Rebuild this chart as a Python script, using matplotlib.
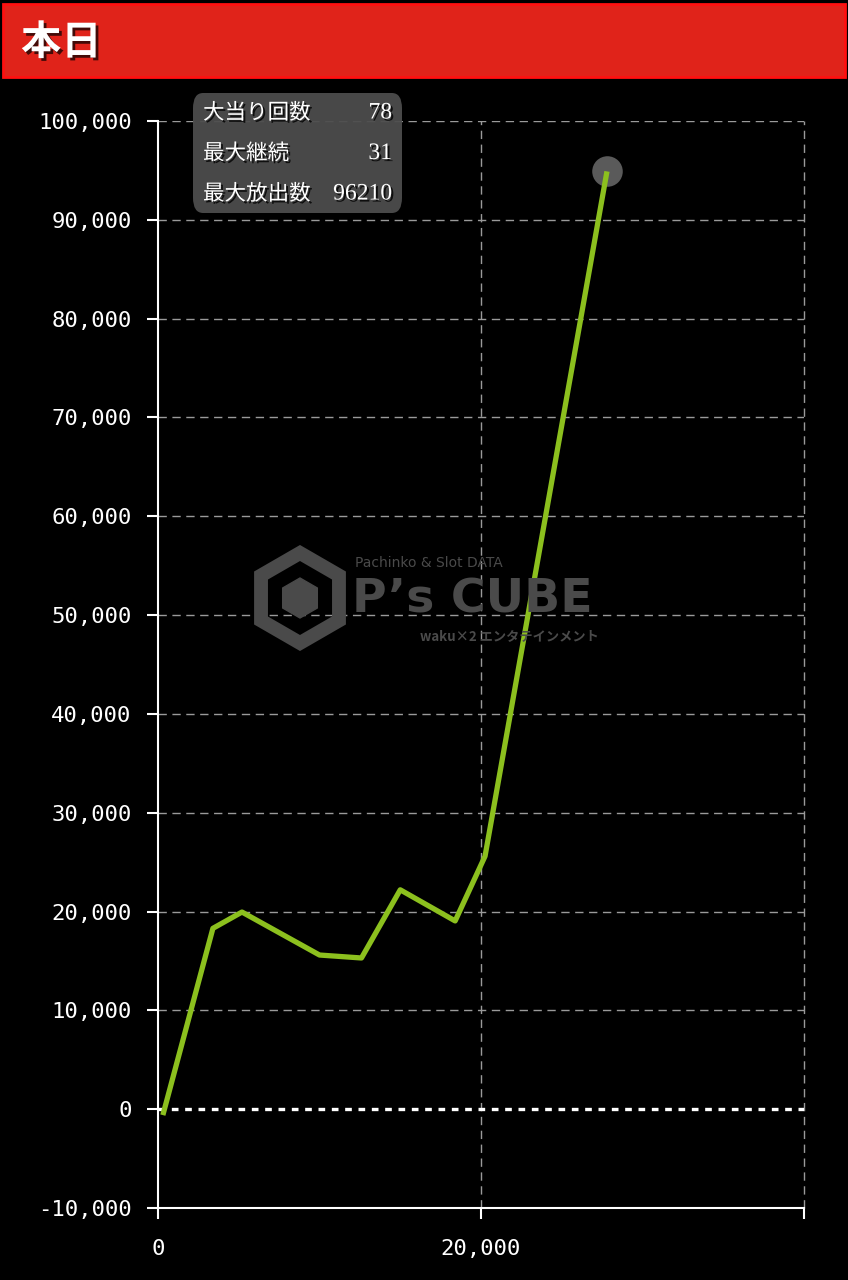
import matplotlib
matplotlib.use("Agg")
import matplotlib.pyplot as plt
import matplotlib.patheffects as pe
from matplotlib.patches import FancyBboxPatch, Rectangle, RegularPolygon
from matplotlib.ticker import FuncFormatter

# ---- data ----
spins = [300, 3400, 5200, 10000, 12600, 15000, 18400, 20250, 27800]
payout = [-600, 18300, 19950, 15600, 15300, 22200, 19050, 25600, 94900]
y_ticks = [-10000, 0, 10000, 20000, 30000, 40000, 50000, 60000, 70000, 80000, 90000, 100000]
x_ticks = [0, 20000]
title = "本日"
info_labels = ["大当り回数", "最大継続", "最大放出数"]
info_values = ["78", "31", "96210"]

W, H = 848, 1280
fig = plt.figure(figsize=(W / 100, H / 100), dpi=100)
fig.patch.set_facecolor("black")

def fx(px):
    return px / W

def fy(py):
    return 1 - py / H

# header bar
fig.patches.append(Rectangle((fx(3), fy(77)), fx(842), 73 / H, transform=fig.transFigure,
                             facecolor="#e0231a", edgecolor="#ff1010", linewidth=2, zorder=1))
fig.text(fx(21), fy(43), title, color="white", fontsize=29, fontweight="bold",
         family=["Noto Sans CJK JP", "DejaVu Sans"], va="center", ha="left",
         path_effects=[pe.withSimplePatchShadow(offset=(2, -2), shadow_rgbFace="black", alpha=0.7)])

ax = fig.add_axes([fx(158), fy(1208), fx(804) - fx(158), (1208 - 121) / H])
ax.set_facecolor("black")
ax.set_xlim(0, 40000)
ax.set_ylim(-10000, 100000)

# grid
for v in y_ticks:
    if v == 0:
        ax.axhline(v, color="white", lw=2.4, ls=(0, (2, 2)), zorder=2)
    elif v > -10000:
        ax.axhline(v, color="#9a9a9a", lw=1, ls=(0, (6, 4)), zorder=1)
for v in [20000, 40000]:
    ax.axvline(v, color="#9a9a9a", lw=1, ls=(0, (6, 4)), zorder=1, clip_on=False)

for s in ["top", "right"]:
    ax.spines[s].set_visible(False)
for s in ["left", "bottom"]:
    ax.spines[s].set_color("white")
    ax.spines[s].set_linewidth(1.5)

ax.set_yticks(y_ticks)
ax.set_xticks(x_ticks + [40000])
ax.xaxis.set_major_formatter(FuncFormatter(lambda v, p: "" if v == 40000 else f"{int(v):,}"))
ax.yaxis.set_major_formatter(FuncFormatter(lambda v, p: f"{int(v):,}"))
ax.tick_params(axis="both", colors="white", labelcolor="white", length=8, width=1.5,
               labelsize=16)
ax.tick_params(axis="y", pad=11)
ax.tick_params(axis="x", pad=14)
for lab in ax.get_xticklabels() + ax.get_yticklabels():
    lab.set_family("DejaVu Sans Mono")

# watermark
wm_color = "#4a4a4a"
cx, cy = 3.00, (H - 598) / 100
fig.patches.append(RegularPolygon((cx, cy), numVertices=6, radius=0.45,
                                  orientation=0, transform=fig.dpi_scale_trans,
                                  facecolor="none", edgecolor=wm_color, linewidth=10, zorder=1))
fig.patches.append(RegularPolygon((cx, cy), numVertices=6, radius=0.2,
                                  orientation=0, transform=fig.dpi_scale_trans,
                                  facecolor=wm_color, edgecolor=wm_color, linewidth=1, zorder=1))
fig.text(fx(355), fy(563), "Pachinko & Slot DATA", color=wm_color, fontsize=10,
         family="DejaVu Sans", va="center", ha="left", zorder=1)
fig.text(fx(352), fy(600), "P’s CUBE", color=wm_color, fontsize=34, fontweight="bold",
         family="DejaVu Sans", va="center", ha="left", zorder=1)
fig.text(fx(420), fy(636), "waku×2 エンタテインメント", color=wm_color, fontsize=9.5,
         fontweight="bold", family=["Noto Sans CJK JP", "DejaVu Sans"], va="center", ha="left", zorder=1)

# line
ax.plot(spins, payout, color="#8cc01e", lw=3.8, solid_capstyle="butt", zorder=4)
ax.plot(spins[-1], payout[-1], "o", ms=22, color="#5a5a5a", mec="none", zorder=3)

# info box
fig.patches.append(FancyBboxPatch((fx(193), fy(213)), fx(209), 120 / H,
                                  boxstyle="round,pad=0,rounding_size=0.012",
                                  transform=fig.transFigure, facecolor="#4d4d4d",
                                  edgecolor="none", alpha=0.95, zorder=5))
shadow = [pe.withSimplePatchShadow(offset=(1.5, -1.5), shadow_rgbFace="black", alpha=0.8)]
for i, (lab, val) in enumerate(zip(info_labels, info_values)):
    yy = fy(113 + i * 40.5)
    fig.text(fx(203), yy, lab, color="white", fontsize=15.5,
             family=["Noto Sans CJK JP", "DejaVu Sans"], va="center", ha="left",
             zorder=6, path_effects=shadow)
    fig.text(fx(392), yy, val, color="white", fontsize=17,
             family=["Liberation Serif", "DejaVu Serif"], va="center", ha="right",
             zorder=6, path_effects=shadow)

fig.savefig("out.png", dpi=100, facecolor="black")
